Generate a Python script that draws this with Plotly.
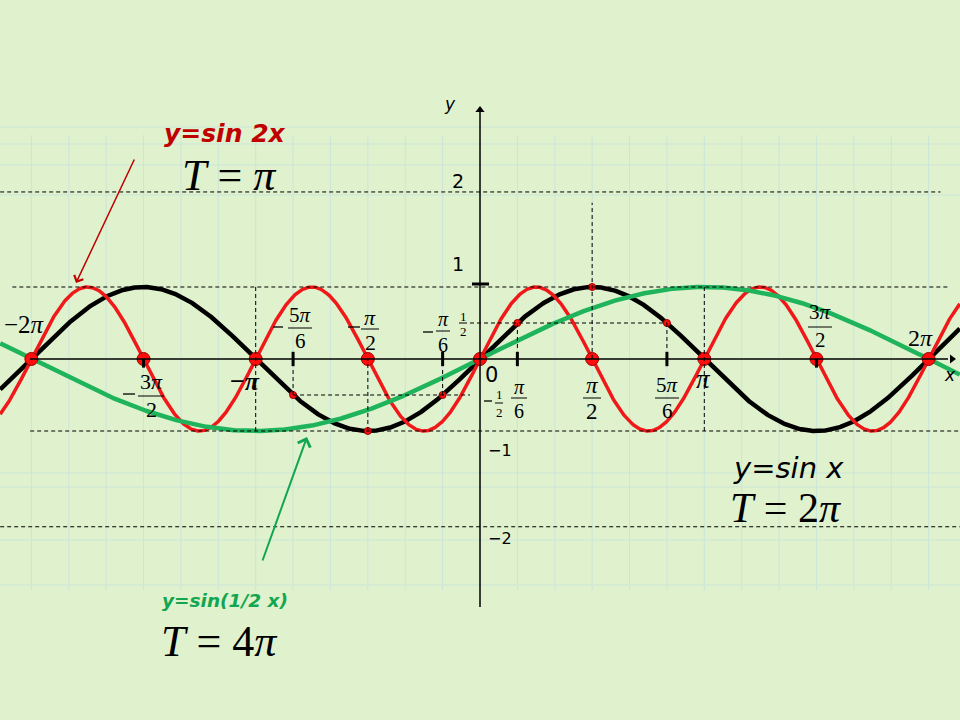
import numpy as np
import plotly.graph_objects as go

# ---- data ---------------------------------------------------------------
x_lo, x_hi = -6.72, 6.72
zeros_pi = [-2, -1.5, -1, -0.5, 0, 0.5, 1, 1.5, 2]      # big red dots on the x axis
marked_pi = [-5/6, -1/2, -1/6, 1/6, 1/2, 5/6]           # small red dots on sin x
marked_y = [-0.5, -1, -0.5, 0.5, 1, 0.5]
tick_pi = [-5/6, -1/6, 1/6, 5/6]                        # short ticks on the x axis
# dashed guide lines: (level, from, to)
h_guides = [(1, -6.55, 6.58), (-1, -6.30, 6.72), (0.5, -0.14, 5/6*np.pi),
            (-0.5, -5/6*np.pi, -0.14), (2.32, -6.72, 6.45), (-2.33, -6.72, 6.72)]
v_guides = [(-np.pi, -1, 1), (-5/6*np.pi, -0.5, -0.12), (-np.pi/2, -1, 0),
            (-np.pi/6, -0.5, -0.12), (np.pi/6, 0.5, 0.12), (np.pi/2, 0, 2.17),
            (5/6*np.pi, 0.5, 0.12), (np.pi, 1, -1)]

BG = '#dff2cd'
GRID = '#cbe5d8'
RED = '#f01818'
GREEN = '#1fb35c'
DARKRED = '#c00000'
SERIF = 'Liberation Serif, Times New Roman, serif'
SANS = 'DejaVu Sans, Verdana, sans-serif'

# pixel -> data helpers (x axis at y=359 px, y axis at x=480 px)
SX, SY, X0, Y0 = 71.4, 72.0, 480, 359


def px(p):
    return (p - X0) / SX


def py(p):
    return (Y0 - p) / SY


xs = np.linspace(x_lo, x_hi, 1200)

fig = go.Figure()
shapes = []
ann = []

# faint grid
for k in range(-12, 13):
    shapes.append(dict(type='line', x0=k * np.pi / 6, x1=k * np.pi / 6, y0=py(135), y1=py(590),
                       line=dict(color=GRID, width=1), layer='below'))
for p in [127, 144, 165, 195, 473, 487, 540, 585]:
    shapes.append(dict(type='line', x0=px(0), x1=px(960), y0=py(p), y1=py(p),
                       line=dict(color=GRID, width=1), layer='below'))

# dashed guides
for lvl, a, b in h_guides:
    shapes.append(dict(type='line', x0=a, x1=b, y0=lvl, y1=lvl,
                       line=dict(color='black', width=1, dash='4px,3px')))
for xv, a, b in v_guides:
    shapes.append(dict(type='line', x0=xv, x1=xv, y0=a, y1=b,
                       line=dict(color='black', width=1, dash='4px,3px')))

# axes
shapes.append(dict(type='line', x0=px(30), x1=px(948), y0=0, y1=0, line=dict(color='black', width=1.5)))
shapes.append(dict(type='line', x0=0, x1=0, y0=py(607), y1=py(112), line=dict(color='black', width=1.5)))
for t in tick_pi:
    shapes.append(dict(type='line', x0=t * np.pi, x1=t * np.pi, y0=0.1, y1=-0.1,
                       line=dict(color='black', width=3)))
for t in [-1.5, 1.5]:
    shapes.append(dict(type='line', x0=t * np.pi, x1=t * np.pi, y0=0, y1=-0.12,
                       line=dict(color='black', width=3)))
shapes.append(dict(type='line', x0=px(472), x1=px(489), y0=py(284), y1=py(284),
                   line=dict(color='black', width=3)))
fig.add_trace(go.Scatter(x=[0, px(952)], y=[py(110), 0], mode='markers',
                         marker=dict(symbol=['triangle-up', 'triangle-right'], size=8, color='black'),
                         hoverinfo='skip'))

# curves
fig.add_trace(go.Scatter(x=xs, y=np.sin(xs), mode='lines', line=dict(color='black', width=4.5)))
fig.add_trace(go.Scatter(x=xs, y=np.sin(2 * xs), mode='lines', line=dict(color=RED, width=3.5)))
fig.add_trace(go.Scatter(x=xs, y=np.sin(xs / 2), mode='lines', line=dict(color=GREEN, width=4.5)))

# points
fig.add_trace(go.Scatter(x=[z * np.pi for z in zeros_pi], y=[0] * len(zeros_pi), mode='markers',
                         marker=dict(size=13, color='#ff0d0d', line=dict(color='#a00000', width=1))))
fig.add_trace(go.Scatter(x=[m * np.pi for m in marked_pi], y=marked_y, mode='markers',
                         marker=dict(size=7, color='#ff0d0d', line=dict(color='#a00000', width=1))))


def text(x, y, s, size, family=SERIF, color='black', pad=1):
    ann.append(dict(x=px(x), y=py(y), text=s, showarrow=False, xanchor='center', yanchor='middle',
                    borderpad=pad, font=dict(size=size, family=family, color=color)))


def frac(x, num, den, y_num, y_bar, y_den, half, size, minus=None):
    text(x, y_num, num, size)
    text(x, y_den, den, size)
    shapes.append(dict(type='line', x0=px(x - half), x1=px(x + half), y0=py(y_bar), y1=py(y_bar),
                       line=dict(color='black', width=1)))
    if minus is not None:
        shapes.append(dict(type='line', x0=px(minus[0] - minus[2]), x1=px(minus[0] + minus[2]),
                           y0=py(minus[1]), y1=py(minus[1]), line=dict(color='black', width=1.3)))


PI = '<i>π</i>'
# x axis labels
text(24, 324, '−2' + PI, 25)
frac(151, '3' + PI, '2', 381, 396, 409, 13, 22, minus=(129, 394, 6))
text(245, 381, '<b>−' + PI + '</b>', 26)
frac(300, '5' + PI, '6', 315, 328, 341, 12, 21, minus=(278, 327, 5))
frac(370, PI, '2', 317, 329, 342, 9, 22, minus=(354, 327, 6))
frac(443, PI, '6', 319, 331, 345, 7, 20, minus=(428, 332, 5))
frac(463, '1', '2', 316, 323, 331, 4, 13)
frac(499, '1', '2', 394, 403, 412, 4, 13, minus=(488, 401, 4))
frac(519, PI, '6', 387, 398, 411, 8, 20)
frac(592, PI, '2', 385, 398, 411, 9, 23)
frac(667, '5' + PI, '6', 385, 398, 411, 12, 21)
text(703, 379, PI, 27)
frac(820, '3' + PI, '2', 312, 327, 340, 12, 21)
text(920, 338, '2' + PI, 24)

# axis names / numbers
text(450, 104, '<i>y</i>', 17, SANS)
text(950, 375, '<i>x</i>', 17, SANS)
text(458, 181, '2', 19, SANS)
text(458, 264, '1', 19, SANS)
text(491, 375, '0', 21, SANS)
text(500, 450, '−1', 16, SANS)
text(500, 538, '−2', 16, SANS)

# titles
text(225, 133, '<b><i>y=sin 2x</i></b>', 25, SANS, DARKRED)
text(229, 175, '<i>T</i> = ' + PI, 44)
text(225, 600, '<b><i>y=sin(1/2 x)</i></b>', 18.5, SANS, '#12a651')
text(219, 641, '<i>T</i> = 4' + PI, 44)
text(788, 468, '<i>y=sin x</i>', 29, SANS, pad=0)
text(785, 508, '<i>T</i> = 2' + PI, 42, pad=0)

# pointer arrows
ann.append(dict(x=px(76), y=py(283), ax=px(135), ay=py(158), axref='x', ayref='y', xref='x', yref='y',
                text='', showarrow=True, arrowhead=4, arrowsize=1.3, arrowwidth=1.5, arrowcolor=DARKRED))
ann.append(dict(x=px(307), y=py(437), ax=px(262), ay=py(562), axref='x', ayref='y', xref='x', yref='y',
                text='', showarrow=True, arrowhead=4, arrowsize=1.3, arrowwidth=2, arrowcolor='#12a651'))

fig.update_layout(
    width=960, height=720,
    margin=dict(l=0, r=0, t=0, b=0),
    paper_bgcolor=BG, plot_bgcolor=BG,
    showlegend=False,
    shapes=shapes, annotations=ann,
    xaxis=dict(range=[px(0), px(960)], visible=False, fixedrange=True),
    yaxis=dict(range=[py(720), py(0)], visible=False, fixedrange=True),
)

fig.write_html("out.html", post_script="document.body.style.margin='0';",
               config={'displayModeBar': False})
